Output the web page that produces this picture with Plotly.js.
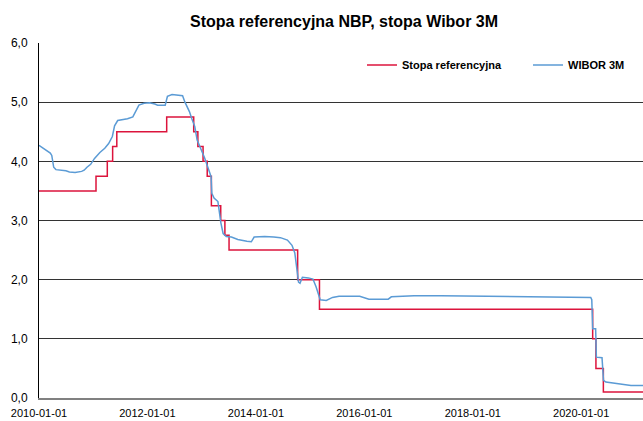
<!DOCTYPE html>
<html>
<head>
<meta charset="utf-8">
<script src="https://cdn.plot.ly/plotly-3.0.1.min.js"></script>
<style>html,body{margin:0;padding:0;background:#fff;}#chart{width:643px;height:421px;}</style>
</head>
<body>
<div id="chart"></div>
<script>
// NBP reference rate (step changes)
const refDates = ['2010-01-01','2011-01-20','2011-04-06','2011-05-12','2011-06-09','2012-05-10','2012-11-08','2012-12-06','2013-01-10','2013-02-07','2013-03-07','2013-05-09','2013-06-06','2013-07-04','2014-10-09','2015-03-05','2020-03-18','2020-04-09','2020-05-29','2021-02-20'];
const refValues = [3.50,3.75,4.00,4.25,4.50,4.75,4.50,4.25,4.00,3.75,3.25,3.00,2.75,2.50,2.00,1.50,1.00,0.50,0.10,0.10];

// WIBOR 3M
const wiborDates = ['2010-01-01','2010-02-01','2010-02-26','2010-03-18','2010-03-28','2010-04-10','2010-04-25','2010-06-01','2010-07-01','2010-07-25','2010-09-01','2010-10-15','2010-11-01','2010-11-20','2010-12-15','2011-01-10','2011-02-15','2011-03-20','2011-04-15','2011-05-10','2011-05-25','2011-06-15','2011-07-15','2011-08-20','2011-09-25','2011-10-15','2011-11-05','2011-12-10','2012-01-15','2012-02-20','2012-03-10','2012-04-30','2012-05-15','2012-06-15','2012-07-31','2012-08-25','2012-09-10','2012-10-10','2012-10-25','2012-11-15','2012-12-01','2013-01-01','2013-01-20','2013-02-10','2013-03-05','2013-03-10','2013-03-25','2013-04-20','2013-05-01','2013-05-10','2013-05-25','2013-06-15','2013-07-20','2013-09-01','2013-11-01','2013-12-01','2013-12-20','2014-03-01','2014-05-01','2014-06-15','2014-08-01','2014-09-01','2014-09-20','2014-10-05','2014-10-15','2014-10-25','2014-11-10','2014-12-20','2015-01-20','2015-02-10','2015-02-25','2015-03-10','2015-04-20','2015-06-01','2015-07-15','2015-12-01','2016-02-01','2016-06-10','2016-07-01','2016-12-01','2017-06-01','2018-06-01','2019-03-01','2019-10-01','2019-12-01','2020-03-05','2020-03-12','2020-03-18','2020-04-07','2020-04-12','2020-05-20','2020-05-30','2020-06-15','2020-08-01','2020-10-01','2020-12-01','2021-02-20'];
const wiborValues = [4.27,4.22,4.17,4.14,4.10,3.90,3.86,3.85,3.84,3.82,3.81,3.83,3.85,3.90,3.95,4.05,4.15,4.22,4.30,4.42,4.60,4.69,4.70,4.72,4.75,4.85,4.95,4.98,4.99,4.97,4.95,4.95,5.10,5.13,5.12,5.11,5.00,4.84,4.73,4.59,4.36,4.19,4.06,3.91,3.74,3.46,3.38,3.32,3.06,2.96,2.78,2.73,2.72,2.68,2.65,2.64,2.72,2.73,2.72,2.71,2.67,2.58,2.45,2.10,1.96,1.94,2.04,2.03,2.01,1.88,1.78,1.66,1.65,1.70,1.72,1.72,1.67,1.67,1.71,1.73,1.73,1.72,1.72,1.71,1.71,1.70,1.66,1.17,1.17,0.69,0.68,0.30,0.27,0.25,0.23,0.21,0.21];

const FONT = '"Liberation Sans", Arial, sans-serif';

const traces = [
  {x: refDates, y: refValues, type: 'scatter', mode: 'lines', name: 'Stopa referencyjna',
   legend: 'legend', line: {color: '#DC143C', width: 1.5, shape: 'hv'}},
  {x: wiborDates, y: wiborValues, type: 'scatter', mode: 'lines', name: 'WIBOR 3M',
   legend: 'legend2', line: {color: '#5B9BD5', width: 1.5}}
];

const legendFont = {family: FONT, size: 11, weight: 'bold', color: '#000'};

const layout = {
  width: 643, height: 421,
  margin: {l: 39, r: 0, t: 43, b: 23, pad: 0},
  paper_bgcolor: '#fff', plot_bgcolor: '#fff',
  separators: ', ',
  font: {family: FONT, size: 12, color: '#000'},
  title: {text: 'Stopa referencyjna NBP, stopa Wibor 3M', x: 344/643, xanchor: 'center',
          y: 1 - 21/421, yanchor: 'middle', yref: 'container',
          font: {family: FONT, size: 16, weight: 'bold', color: '#000'}},
  showlegend: true,
  legend: {orientation: 'h', x: (362-39)/604, xanchor: 'left', y: 0.938, yanchor: 'middle',
           font: legendFont, bgcolor: 'rgba(0,0,0,0)'},
  legend2: {orientation: 'h', x: (528-39)/604, xanchor: 'left', y: 0.938, yanchor: 'middle',
           font: legendFont, bgcolor: 'rgba(0,0,0,0)'},
  xaxis: {type: 'date', range: ['2010-01-01', '2021-02-20'], dtick: 'M24', tick0: '2010-01-01',
          tickformat: '%Y-%m-%d', showgrid: false, zeroline: false,
          showline: true, linecolor: '#808080', linewidth: 2, ticks: '',
          ticklabelstandoff: 4,
          tickfont: {family: FONT, size: 11, color: '#000'}, fixedrange: true},
  yaxis: {range: [0, 6], dtick: 1, tickformat: '.1f', showgrid: true, gridcolor: '#333', gridwidth: 1,
          zeroline: false, showline: true, linecolor: '#000', linewidth: 1, ticks: '',
          ticklabelstandoff: 8,
          tickfont: {family: FONT, size: 12, color: '#000'}, fixedrange: true}
};

Plotly.newPlot('chart', traces, layout, {staticPlot: true, displayModeBar: false});
</script>
</body>
</html>
